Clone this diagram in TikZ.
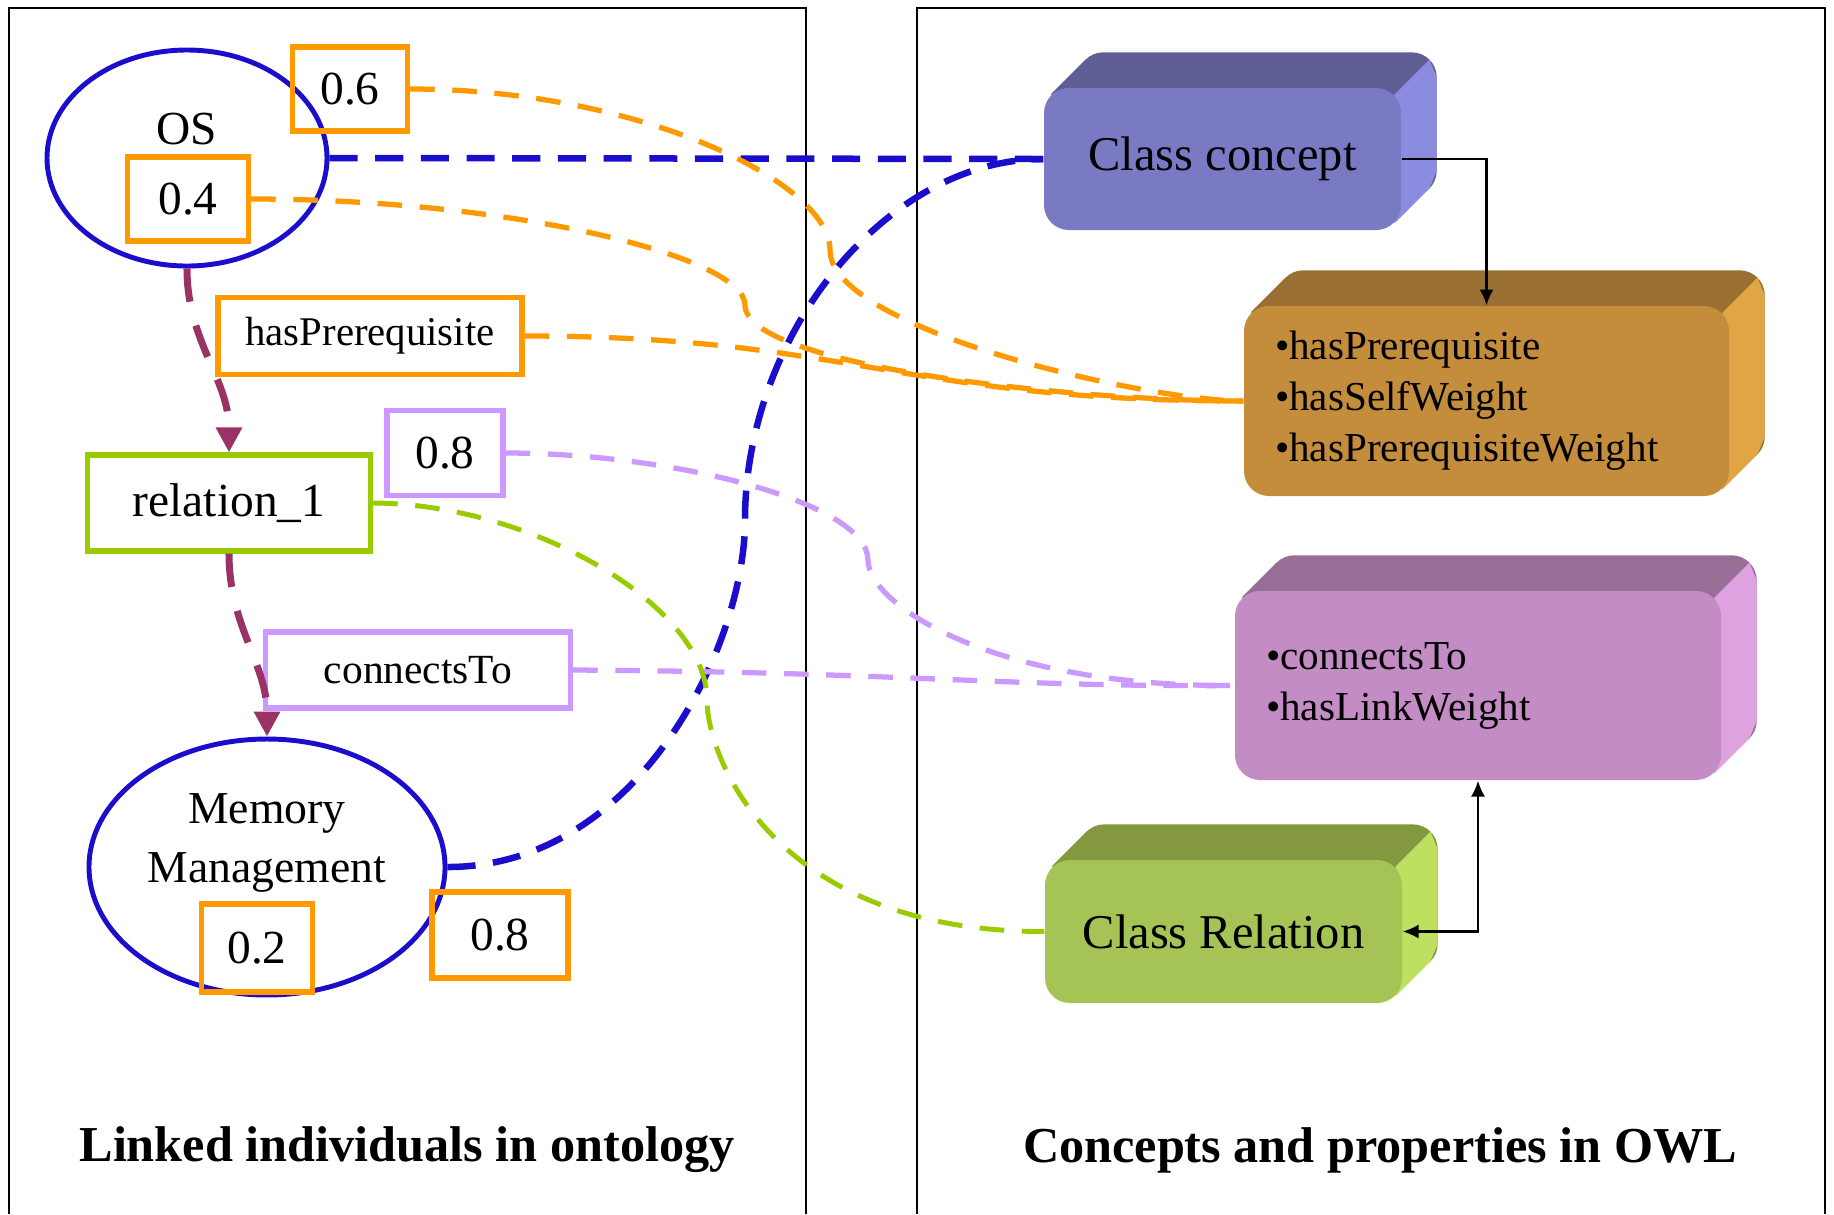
\documentclass[tikz,border=0pt]{standalone}
\usepackage{fontspec}
\setmainfont{Liberation Serif}
\usepackage{tikz}
\usetikzlibrary{calc,shapes.geometric,arrows.meta,backgrounds}

\definecolor{indblue}{RGB}{26,13,204}
\definecolor{wtorange}{RGB}{255,153,0}
\definecolor{lnkpurple}{RGB}{204,153,255}
\definecolor{relgreen}{RGB}{153,204,0}
\definecolor{arrmaroon}{RGB}{153,51,102}
\definecolor{ccfront}{RGB}{122,122,196}
\definecolor{cctop}{RGB}{95,95,150}
\definecolor{ccside}{RGB}{139,139,224}
\definecolor{opfront}{RGB}{196,141,60}
\definecolor{optop}{RGB}{154,112,50}
\definecolor{opside}{RGB}{226,165,70}
\definecolor{lpfront}{RGB}{196,140,196}
\definecolor{lptop}{RGB}{152,110,150}
\definecolor{lpside}{RGB}{222,162,224}
\definecolor{crfront}{RGB}{166,196,85}
\definecolor{crtop}{RGB}{131,152,63}
\definecolor{crside}{RGB}{190,224,96}

\begin{document}
\begin{tikzpicture}[
        frame/.style={draw=black, line width=0.5pt},
        indiv/.style={draw=indblue, ellipse, line width=1.4pt, inner sep=0pt},
        wbox/.style={draw=wtorange, rectangle, line width=1.5pt, inner sep=0pt, font=\fontsize{13.5}{16}\selectfont},
        lbox/.style={draw=lnkpurple, rectangle, line width=1.5pt, inner sep=0pt, font=\fontsize{13.5}{16}\selectfont},
        relbox/.style={draw=relgreen, rectangle, line width=1.5pt, inner sep=0pt, font=\fontsize{13.5}{16}\selectfont},
        cube/.style={rectangle, rounded corners=0.25cm, inner sep=0pt, font=\fontsize{13.8}{16}\selectfont},
        proplist/.style={align=left, font=\fontsize{11.7}{14.5}\selectfont},
        backface/.style={rounded corners=0.25cm},
        title/.style={font=\bfseries\fontsize{14.3}{17}\selectfont},
        conc/.style={draw=indblue, line width=1.85pt, dash pattern=on 8pt off 5pt},
        wlink/.style={draw=wtorange, line width=1.5pt, dash pattern=on 7pt off 5pt},
        llink/.style={draw=lnkpurple, line width=1.5pt, dash pattern=on 7pt off 5pt},
        rlink/.style={draw=relgreen, line width=1.4pt, dash pattern=on 7pt off 5pt},
        seq/.style={draw=arrmaroon, line width=2pt, dash pattern=on 9.5pt off 7pt, -{Triangle[length=0.25cm,width=0.25cm]}},
        owl/.style={draw=black, line width=0.6pt}
    ]
        \useasboundingbox (0,0) rectangle (18.34,-12.14);

        % 枠
        \draw[frame] (0.09,-12.14) |- (8.06,-0.08) -- (8.06,-12.14);
        \draw[frame] (9.17,-12.14) |- (18.25,-0.08) -- (18.25,-12.14);

        % 個体
        \node[indiv, minimum width=2.80cm, minimum height=2.16cm, label={[font=\fontsize{13.5}{16}\selectfont, yshift=0.29cm]center:OS}] (OS) at (1.87,-1.58) {};
        \node[indiv, minimum width=3.56cm, minimum height=2.56cm, label={[align=center, font=\fontsize{13}{16.6}\selectfont, yshift=0.24cm]center:Memory\\Management}] (MemMgmt) at (2.67,-8.67) {};
        \node[relbox, minimum width=2.83cm, minimum height=0.96cm] (Rel1) at (2.29,-5.03) {relation\_1};

        % 重み・性質
        \node[wbox, minimum width=1.21cm, minimum height=0.84cm] (W04) at (1.88,-1.99) {0.4};
        \node[wbox, minimum width=1.15cm, minimum height=0.84cm] (W06) at (3.50,-0.89) {0.6};
        \node[wbox, minimum width=3.04cm, minimum height=0.77cm, font=\fontsize{11.6}{14}\selectfont] (HasPre) at (3.70,-3.36) {hasPrerequisite};
        \node[lbox, minimum width=1.16cm, minimum height=0.85cm] (W08L) at (4.45,-4.53) {0.8};
        \node[lbox, minimum width=3.05cm, minimum height=0.76cm, font=\fontsize{11.8}{14}\selectfont] (ConnTo) at (4.18,-6.70) {connectsTo};
        \node[wbox, minimum width=1.11cm, minimum height=0.88cm] (W02) at (2.57,-9.48) {0.2};
        \node[wbox, minimum width=1.36cm, minimum height=0.86cm] (W08O) at (5.00,-9.35) {0.8};

        % OWL の概念と性質
        \node[cube, fill=ccfront, minimum width=3.57cm, minimum height=1.42cm] (ClassConcept) at (12.225,-1.59) {Class concept};
        \node[cube, proplist, fill=opfront, minimum width=4.85cm, minimum height=1.90cm, text width=4.23cm] (PropsPre) at (14.865,-4.01) {•hasPrerequisite\\•hasSelfWeight\\•hasPrerequisiteWeight};
        \node[cube, proplist, fill=lpfront, minimum width=4.86cm, minimum height=1.89cm, text width=4.24cm] (PropsLink) at (14.78,-6.855) {•connectsTo\\•hasLinkWeight};
        \node[cube, fill=crfront, minimum width=3.57cm, minimum height=1.43cm] (ClassRel) at (12.235,-9.315) {Class Relation};

        % 奥行き (上面と側面)
        \begin{scope}[on background layer]
            \fill[cctop, backface] ($(ClassConcept.north west)+(0.35,0.35)$) rectangle ($(ClassConcept.south east)+(0.35,0.35)$);
            \fill[cctop] ($(ClassConcept.north west)+(0.073,-0.073)$) -- ++(0.35,0.35) -- ($(ClassConcept.north east)+(0.277,0.277)$) -- ($(ClassConcept.north east)+(-0.073,-0.073)$) -- cycle;
            \fill[ccside] ($(ClassConcept.north east)+(-0.073,-0.073)$) -- ++(0.35,0.35) -- ($(ClassConcept.north east)+(0.35,0.1)$) -- ($(ClassConcept.south east)+(0.35,0.6)$) -- ($(ClassConcept.south east)+(0.277,0.423)$) -- ($(ClassConcept.south east)+(-0.073,0.073)$) -- cycle;
            \fill[optop, backface] ($(PropsPre.north west)+(0.35,0.35)$) rectangle ($(PropsPre.south east)+(0.35,0.35)$);
            \fill[optop] ($(PropsPre.north west)+(0.073,-0.073)$) -- ++(0.35,0.35) -- ($(PropsPre.north east)+(0.277,0.277)$) -- ($(PropsPre.north east)+(-0.073,-0.073)$) -- cycle;
            \fill[opside] ($(PropsPre.north east)+(-0.073,-0.073)$) -- ++(0.35,0.35) -- ($(PropsPre.north east)+(0.35,0.1)$) -- ($(PropsPre.south east)+(0.35,0.6)$) -- ($(PropsPre.south east)+(0.277,0.423)$) -- ($(PropsPre.south east)+(-0.073,0.073)$) -- cycle;
            \fill[lptop, backface] ($(PropsLink.north west)+(0.35,0.35)$) rectangle ($(PropsLink.south east)+(0.35,0.35)$);
            \fill[lptop] ($(PropsLink.north west)+(0.073,-0.073)$) -- ++(0.35,0.35) -- ($(PropsLink.north east)+(0.277,0.277)$) -- ($(PropsLink.north east)+(-0.073,-0.073)$) -- cycle;
            \fill[lpside] ($(PropsLink.north east)+(-0.073,-0.073)$) -- ++(0.35,0.35) -- ($(PropsLink.north east)+(0.35,0.1)$) -- ($(PropsLink.south east)+(0.35,0.6)$) -- ($(PropsLink.south east)+(0.277,0.423)$) -- ($(PropsLink.south east)+(-0.073,0.073)$) -- cycle;
            \fill[crtop, backface] ($(ClassRel.north west)+(0.35,0.35)$) rectangle ($(ClassRel.south east)+(0.35,0.35)$);
            \fill[crtop] ($(ClassRel.north west)+(0.073,-0.073)$) -- ++(0.35,0.35) -- ($(ClassRel.north east)+(0.277,0.277)$) -- ($(ClassRel.north east)+(-0.073,-0.073)$) -- cycle;
            \fill[crside] ($(ClassRel.north east)+(-0.073,-0.073)$) -- ++(0.35,0.35) -- ($(ClassRel.north east)+(0.35,0.1)$) -- ($(ClassRel.south east)+(0.35,0.6)$) -- ($(ClassRel.south east)+(0.277,0.423)$) -- ($(ClassRel.south east)+(-0.073,0.073)$) -- cycle;
        \end{scope}

        % 個体間の矢印
        \draw[seq] (OS.south) to[out=-90, in=90] (Rel1.north);
        \draw[seq] (Rel1.south) to[out=-90, in=90] (MemMgmt.north);

        % OWL 内の矢印
        \draw[owl, -{Latex[length=4.5pt,width=4pt]}] (ClassConcept.east) -| (PropsPre.north);
        \draw[owl, {Latex[length=4.5pt,width=4pt]}-{Latex[length=4.5pt,width=4pt]}] (ClassRel.east) -| (PropsLink.south);

        % 対応関係
        \draw[conc] (OS.east) -- (ClassConcept.west);
        \draw[conc] (MemMgmt.east) .. controls (6.37,-8.67) and (7.45,-6.47) .. (7.45,-5.20)
            .. controls (7.45,-3.36) and (8.85,-1.59) .. (ClassConcept.west);
        \draw[wlink] (W06.east) .. controls (6.38,-0.89) and (8.30,-1.82) .. (8.30,-2.50)
            .. controls (8.30,-3.29) and (11.45,-4.01) .. (PropsPre.west);
        \draw[wlink] (W04.east) .. controls (5.13,-1.99) and (7.45,-2.57) .. (7.45,-3.05)
            .. controls (7.45,-3.66) and (10.72,-4.01) .. (PropsPre.west);
        \draw[wlink] (HasPre.east) .. controls (8.5,-3.36) and (9.0,-4.01) .. (PropsPre.west);
        \draw[llink] (W08L.east) .. controls (6.75,-4.53) and (8.68,-5.03) .. (8.68,-5.60)
            .. controls (8.68,-6.04) and (9.91,-6.87) .. (PropsLink.west);
        \draw[llink] (ConnTo.east) .. controls (9.0,-6.72) and (10.0,-6.87) .. (PropsLink.west);
        \draw[rlink] (Rel1.east) .. controls (5.34,-5.04) and (7.07,-6.07) .. (7.07,-7.00)
            .. controls (7.07,-7.59) and (7.76,-9.32) .. (ClassRel.west);

        % 見出し
        \node[title] (LeftTitle) at (4.07,-11.50) {Linked individuals in ontology};
        \node[title] (RightTitle) at (13.80,-11.50) {Concepts and properties in OWL};
    \end{tikzpicture}
\end{document}
